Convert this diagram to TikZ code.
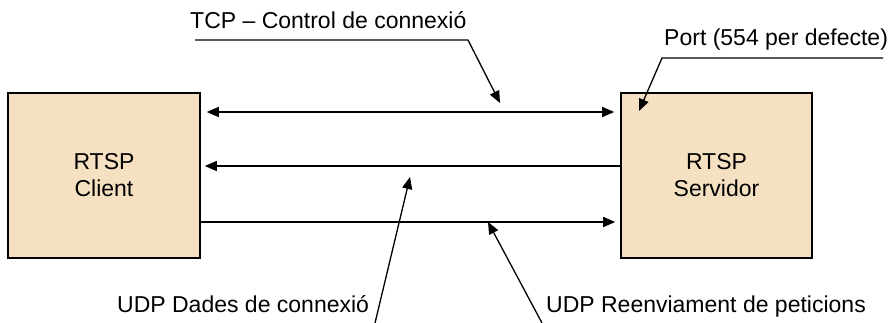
\documentclass[tikz,border=0pt]{standalone}
\usepackage{fontspec}
\setmainfont{Liberation Sans}
\usetikzlibrary{arrows.meta,calc}
\definecolor{boxfill}{HTML}{F5E0C1}
\begin{document}
\begin{tikzpicture}[x=1pt,y=-1pt,
  every node/.style={font=\fontsize{23}{27}\selectfont, inner sep=0pt},
  hostbox/.style={draw=black, fill=boxfill, line width=1.6pt, minimum height=165pt, align=center},
  link/.style={line width=1.5pt, -{Triangle[length=12pt,width=10pt]}},
  biglink/.style={line width=1.5pt, {Triangle[length=12pt,width=10pt]}-{Triangle[length=12pt,width=10pt]}},
  callout/.style={line width=1.3pt, -{Triangle[length=12pt,width=10pt]}},
  lbl/.style={anchor=base west}]
\useasboundingbox (0,0) rectangle (890,323);

% the two end points
\node[hostbox, minimum width=192pt] (client) at (104,175.5) {RTSP\\Client};
\node[hostbox, minimum width=191pt] (server) at (716.5,175.5) {RTSP\\Servidor};

% channels between them
\draw[biglink, shorten <=6pt, shorten >=6pt]
  ([yshift=63.5pt]client.east) -- ([yshift=63.5pt]server.west);
\draw[link, shorten >=4pt]
  ([yshift=9.5pt]server.west) -- ([yshift=9.5pt]client.west -| client.east);
\draw[link, shorten >=5pt]
  ([yshift=-46.5pt]client.east) -- ([yshift=-46.5pt]server.west);

% labels
\node[lbl] (tcp) at (190,29) {TCP -- Control de connexió};
\node[lbl] (port) at (664,46) {Port (554 per defecte)};
\node[lbl] (dades) at (117,312) {UDP Dades de connexió};
\node[lbl] (reenv) at (546,312) {UDP Reenviament de peticions};

% leader lines
\coordinate (tcpA) at (195,40);
\coordinate (tcpB) at (468,40);
\coordinate (tcpT) at (500,103);
\draw[callout] (tcpA) -- (tcpB) -- (tcpT);

\coordinate (portA) at (883,58);
\coordinate (portB) at (662,58);
\coordinate (portT) at (639,111);
\draw[callout] (portA) -- (portB) -- (portT);

\coordinate (dadesA) at (375,323);
\coordinate (dadesT) at (410,177);
\draw[callout] (dadesA) -- (dadesT);

\coordinate (reenvA) at (542,323);
\coordinate (reenvT) at (488,222);
\draw[callout] (reenvA) -- (reenvT);
\end{tikzpicture}
\end{document}
